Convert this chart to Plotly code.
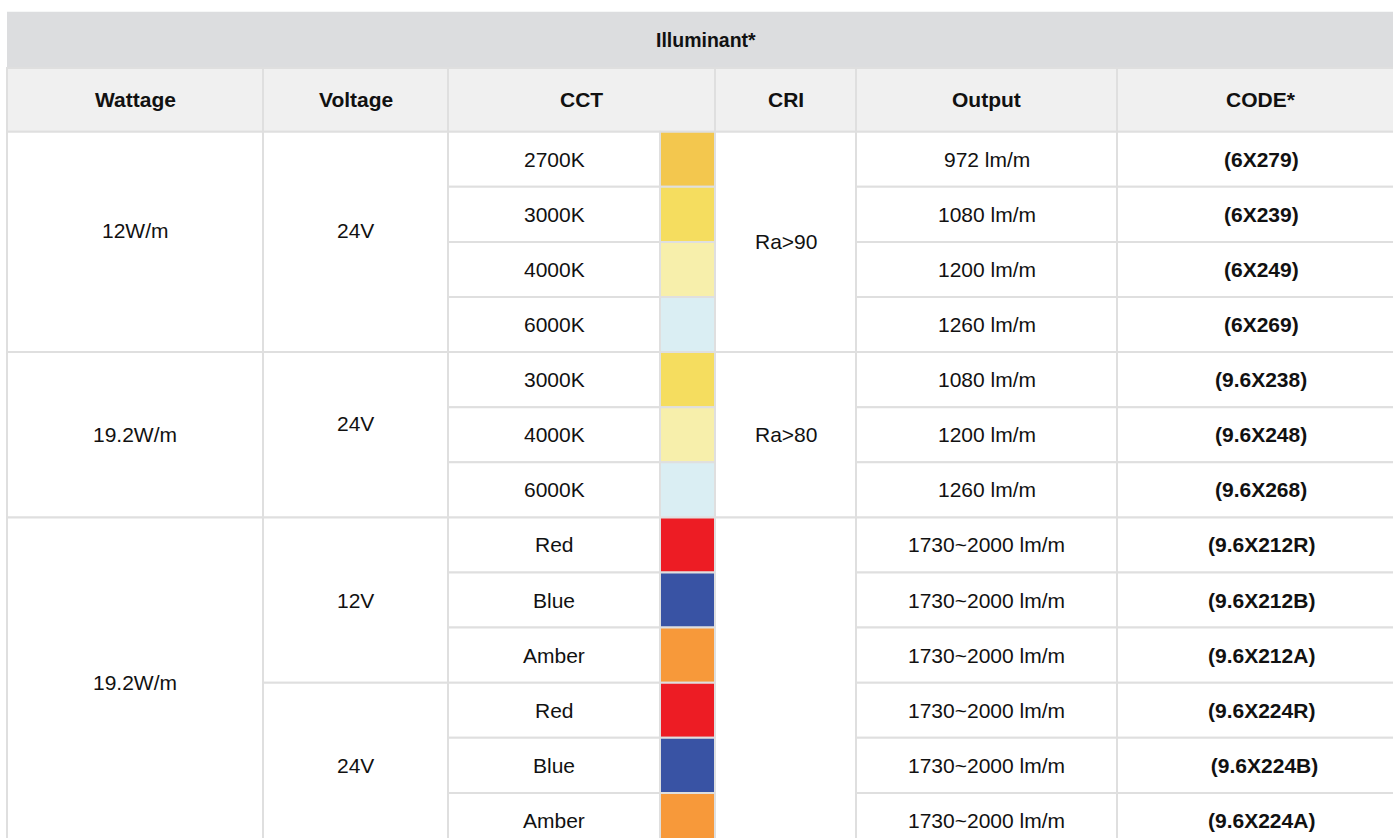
import plotly.graph_objects as go

# ---------------- data ----------------
title_text = "Illuminant*"
header_labels = ["Wattage", "Voltage", "CCT", "CRI", "Output", "CODE*"]

wattage_labels = ["12W/m", "19.2W/m", "19.2W/m"]
wattage_spans = [4, 3, 6]

voltage_labels = ["24V", "24V", "12V", "24V"]
voltage_spans = [4, 3, 3, 3]

cct_labels = ["2700K", "3000K", "4000K", "6000K",
              "3000K", "4000K", "6000K",
              "Red", "Blue", "Amber", "Red", "Blue", "Amber"]
swatch_colors = ["#f3c74e", "#f5dd5f", "#f7efab", "#daeef3",
                 "#f5dd5f", "#f7efab", "#daeef3",
                 "#ed1c24", "#3953a4", "#f7993a",
                 "#ed1c24", "#3953a4", "#f7993a"]

cri_labels = ["Ra>90", "Ra>80", ""]
cri_spans = [4, 3, 6]

output_labels = ["972 lm/m", "1080 lm/m", "1200 lm/m", "1260 lm/m",
                 "1080 lm/m", "1200 lm/m", "1260 lm/m",
                 "1730~2000 lm/m", "1730~2000 lm/m", "1730~2000 lm/m",
                 "1730~2000 lm/m", "1730~2000 lm/m", "1730~2000 lm/m"]
code_labels = ["(6X279)", "(6X239)", "(6X249)", "(6X269)",
               "(9.6X238)", "(9.6X248)", "(9.6X268)",
               "(9.6X212R)", "(9.6X212B)", "(9.6X212A)",
               "(9.6X224R)", " (9.6X224B)", "(9.6X224A)"]

# ---------------- layout geometry (pixel units on axes) ----------------
W, H = 1393, 838
col_x = [7, 263, 448, 660, 715, 856, 1117, 1405]
y_top, y_title_bot, y_head_bot = 11.7, 68, 131.7
row_h = 55.1
# vertical text nudges for some merged cells (pixels, negative = up)
wattage_nudge = [-11, 0, 0]
voltage_nudge = [-11, -11, 0, 0]

GRID = "#dfdfdf"
FONT = "Liberation Sans, Arial, sans-serif"
TXT = "#111111"
FS = 21

fig = go.Figure()
shapes = []
annotations = []


def row_y(i):
    return y_head_bot + i * row_h


def cell(x0, x1, y0, y1, fill="white", line=True):
    shapes.append(dict(type="rect", xref="x", yref="y", x0=x0, x1=x1, y0=y0, y1=y1,
                       fillcolor=fill,
                       line=dict(color=GRID if line else fill, width=2 if line else 0),
                       layer="below"))


def label(x, y, text, bold=False, size=FS):
    annotations.append(dict(x=x, y=y, xref="x", yref="y", showarrow=False,
                            text=("<b>%s</b>" % text) if bold else text,
                            font=dict(family=FONT, size=size, color=TXT),
                            xanchor="center", yanchor="middle"))


# title band
shapes.append(dict(type="rect", xref="x", yref="y", x0=col_x[0], x1=col_x[-1],
                   y0=y_top, y1=y_title_bot, fillcolor="#dcdddf", line=dict(width=0), layer="below"))
label((col_x[0] + col_x[-1]) / 2, (y_top + y_title_bot) / 2, title_text, bold=True, size=19.5)

# header row: CCT spans text + swatch columns
head_cols = [(0, 1), (1, 2), (2, 4), (4, 5), (5, 6), (6, 7)]
for (a, b), t in zip(head_cols, header_labels):
    cell(col_x[a], col_x[b], y_title_bot, y_head_bot, fill="#f0f0f0")
    label((col_x[a] + col_x[b]) / 2, (y_title_bot + y_head_bot) / 2, t, bold=True)


def merged(col_a, col_b, labels, spans, nudges=None, bold=False):
    r = 0
    for k, (t, s) in enumerate(zip(labels, spans)):
        y0, y1 = row_y(r), row_y(r + s)
        cell(col_x[col_a], col_x[col_b], y0, y1)
        if t:
            dy = nudges[k] if nudges else 0
            label((col_x[col_a] + col_x[col_b]) / 2, (y0 + y1) / 2 + dy, t, bold=bold)
        r += s


merged(0, 1, wattage_labels, wattage_spans, wattage_nudge)
merged(1, 2, voltage_labels, voltage_spans, voltage_nudge)
merged(4, 5, cri_labels, cri_spans)

for i in range(len(cct_labels)):
    y0, y1 = row_y(i), row_y(i + 1)
    ym = (y0 + y1) / 2
    cell(col_x[2], col_x[3], y0, y1)
    label((col_x[2] + col_x[3]) / 2, ym, cct_labels[i])
    cell(col_x[3], col_x[4], y0, y1, fill=swatch_colors[i])
    cell(col_x[5], col_x[6], y0, y1)
    label((col_x[5] + col_x[6]) / 2, ym, output_labels[i])
    cell(col_x[6], col_x[7], y0, y1)
    label((col_x[6] + col_x[7]) / 2, ym, code_labels[i], bold=True)

fig.update_layout(
    width=W, height=H, autosize=False,
    margin=dict(l=0, r=0, t=0, b=0, pad=0),
    paper_bgcolor="white", plot_bgcolor="white",
    xaxis=dict(range=[0, W], visible=False, fixedrange=True),
    yaxis=dict(range=[H, 0], visible=False, fixedrange=True),
    shapes=shapes, annotations=annotations, showlegend=False,
)

fig.write_html("out.html", config={"displayModeBar": False},
               post_script="document.body.style.margin='0';document.body.style.overflow='hidden';")
